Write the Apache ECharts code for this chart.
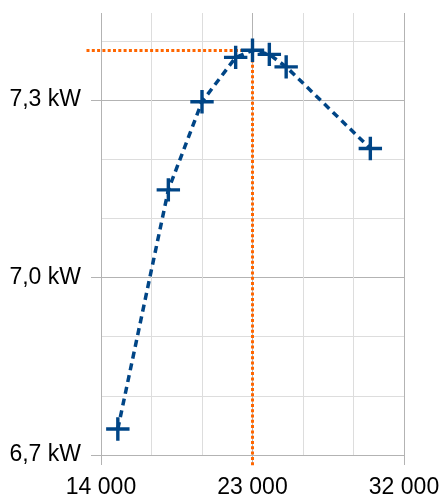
<!DOCTYPE html>
<html>
<head>
<meta charset="utf-8">
<script src="https://cdn.jsdelivr.net/npm/echarts@6/dist/echarts.min.js"></script>
<style>
html,body{margin:0;padding:0;background:#fff;}
#chart{width:444px;height:501px;}
</style>
</head>
<body>
<div id="chart"></div>
<script>
// ---- data ----
var rpm = [15000, 18000, 20000, 22000, 23000, 24000, 25000, 30000];
var powerKW = [6.744, 7.148, 7.297, 7.372, 7.384, 7.377, 7.356, 7.218];
var xTickValues = [14000, 23000, 32000];
var yTickValues = [6.7, 7.0, 7.3];
var optimumX = 23000;
var optimumY = 7.384;
var refLineLeftX = 13100;
var refLineBottomY = 6.683;

var X_MIN = 14000, X_MAX = 32000, Y_MIN = 6.7, Y_MAX = 7.447;
var MAJOR = '#b3b3b3', MINOR = '#dddddd', NONE = 'rgba(0,0,0,0)';
var FONT = 'Liberation Sans';
var ORANGE = '#ff6600', BLUE = '#004586';

var points = rpm.map(function (x, i) { return [x, powerKW[i]]; });
var refLine = [[refLineLeftX, optimumY], [optimumX, optimumY], [optimumX, refLineBottomY]];

function fmtX(v) {
  return String(Math.round(v)).replace(/\B(?=(\d{3})+(?!\d))/g, ' ');
}
function fmtY(v) {
  return v.toFixed(1).replace('.', ',') + ' kW';
}

var chart = echarts.init(document.getElementById('chart'), null, {renderer: 'canvas'});
chart.setOption({
  animation: false,
  backgroundColor: '#ffffff',
  grid: {left: 101, right: 40, top: 13, bottom: 46},
  xAxis: [{
    type: 'value',
    min: X_MIN, max: X_MAX, interval: 1000,
    axisLine: {show: false},
    axisTick: {show: false},
    axisLabel: {show: false},
    splitLine: {show: true, lineStyle: {width: 1, color: [MAJOR, NONE, NONE, MINOR, NONE, NONE, MINOR, NONE, NONE]}}
  }, {
    type: 'value',
    position: 'bottom',
    min: X_MIN, max: X_MAX, interval: 1000,
    axisLine: {show: false},
    axisTick: {show: true, length: 10, customValues: xTickValues, lineStyle: {color: MAJOR, width: 1}},
    axisLabel: {customValues: xTickValues, formatter: fmtX, margin: 21, color: '#000', fontFamily: FONT, fontSize: 23},
    splitLine: {show: false}
  }],
  yAxis: [{
    type: 'value',
    min: Y_MIN, max: Y_MAX, interval: 0.1,
    axisLine: {show: false},
    axisTick: {show: false},
    axisLabel: {show: false},
    splitLine: {show: true, showMaxLine: false, lineStyle: {width: 1, color: [MAJOR, MINOR, MINOR, MAJOR, MINOR, MINOR, MAJOR, MINOR, NONE]}}
  }, {
    type: 'value',
    position: 'left',
    min: Y_MIN, max: Y_MAX, interval: 0.1,
    axisLine: {show: false},
    axisTick: {show: true, length: 10, customValues: yTickValues, lineStyle: {color: MAJOR, width: 1}},
    axisLabel: {customValues: yTickValues, formatter: fmtY, margin: 20, color: '#000', fontFamily: FONT, fontSize: 23},
    splitLine: {show: false}
  }],
  series: [
    {
      type: 'line',
      xAxisIndex: 0, yAxisIndex: 0,
      data: points,
      clip: false,
      symbol: 'path://M10,0 H13.4 V10 H23.4 V13.4 H13.4 V23.4 H10 V13.4 H0 V10 H10 Z',
      symbolSize: 23.4,
      z: 3,
      itemStyle: {color: BLUE},
      lineStyle: {color: BLUE, width: 3.5, type: [7, 5]}
    }
  ]
});

// optimum reference lines, positioned through the chart's own scales
var refPts = refLine.map(function (p) {
  var px = chart.convertToPixel({xAxisIndex: 0, yAxisIndex: 0}, p);
  return [Math.round(px[0]) + 0.5, Math.round(px[1]) + 0.5];
});
chart.setOption({
  graphic: [{
    type: 'polyline',
    z: 1,
    silent: true,
    shape: {points: refPts},
    style: {stroke: ORANGE, lineWidth: 3, fill: null, lineDash: [3, 2.3]}
  }]
});
</script>
</body>
</html>
